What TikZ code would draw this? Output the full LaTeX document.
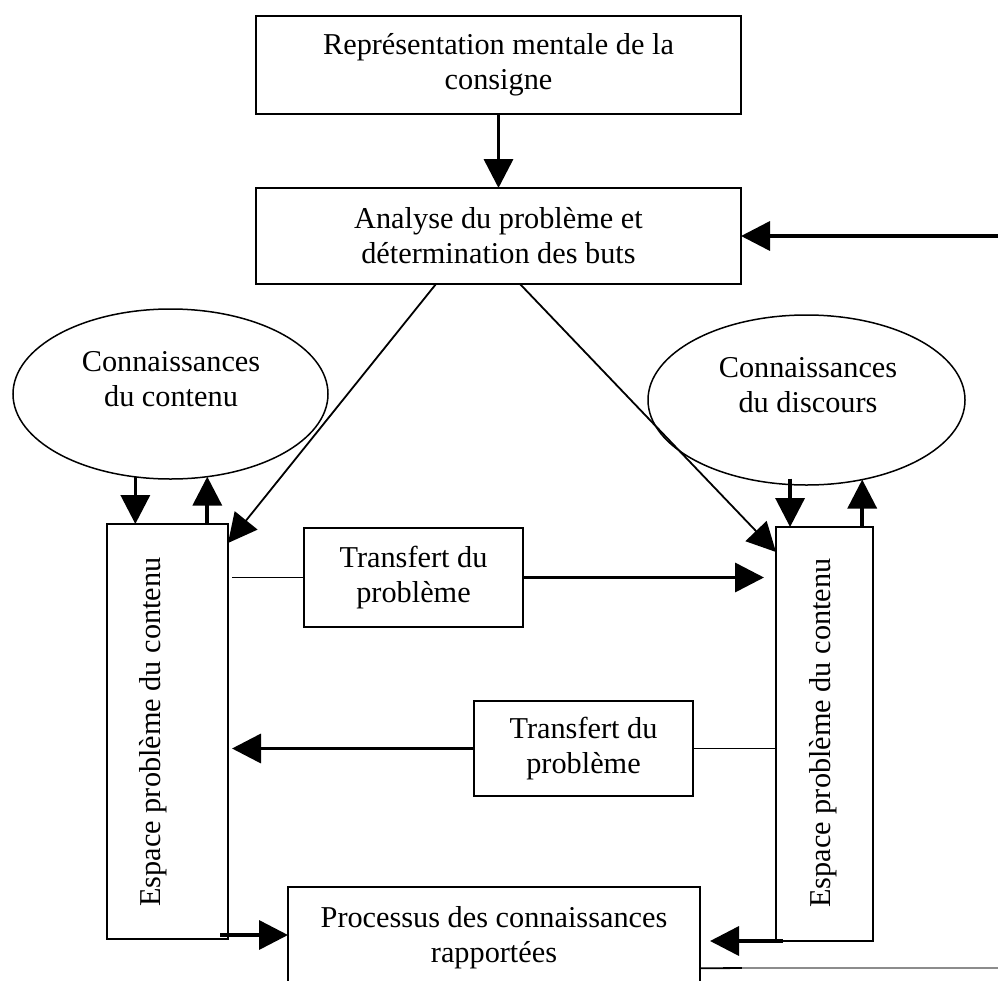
\documentclass[tikz,border=0pt]{standalone}
\usepackage{fontspec}
\setmainfont{Liberation Serif}
\usetikzlibrary{arrows.meta,shapes.geometric}
\begin{document}
\begin{tikzpicture}[x=1pt,y=-1pt,
  font=\fontsize{30.3}{35}\selectfont,
  box/.style={draw,line width=1.6pt,inner sep=0pt,outer sep=0pt,align=center},
  ell/.style={draw,ellipse,line width=1.5pt,inner sep=0pt,outer sep=0pt},
  thinl/.style={line width=1.8pt},
  thk/.style={line width=3.6pt,-{Triangle[length=29pt,width=29pt]}},
  thn/.style={line width=1.8pt,-{Triangle[length=29pt,width=29pt]}},
  lbl/.style={align=center,inner sep=0pt},
  vtext/.style={rotate=90,inner sep=0pt}]
\path[use as bounding box] (0,0) rectangle (998,980);
\clip (0,0) rectangle (998,980);

% boxes
\node[box,minimum width=485pt,minimum height=98pt] (B1) at (498.5,65) {Représentation mentale de la\\consigne};
\node[box,minimum width=485pt,minimum height=96pt] (B2) at (498.5,236) {Analyse du problème et\\détermination des buts};
\node[box,minimum width=219pt,minimum height=99pt] (T1) at (413.5,577.5) {Transfert du\\problème};
\node[box,minimum width=219pt,minimum height=95pt] (T2) at (583.5,748.5) {Transfert du\\problème};
\node[box,minimum width=121pt,minimum height=415pt] (LB) at (167.5,731.5) {};
\node[box,minimum width=97pt,minimum height=414pt] (RB) at (824.5,734) {};
\node[box,minimum width=412pt,minimum height=100.6pt] (B3) at (494,937.3) {Processus des connaissances\\rapportées};

% rotated labels
\node[vtext] (LBt) at (152.8,732) {Espace problème du contenu};
\node[vtext] (RBt) at (822.8,733) {Espace problème du contenu};

% ellipses
\node[ell,minimum width=315pt,minimum height=170pt] (EL) at (170.5,394) {};
\node[ell,minimum width=317pt,minimum height=170pt] (ER) at (806.5,400) {};
\node[lbl] (ELt) at (171,379) {Connaissances\\du contenu};
\node[lbl] (ERt) at (808,385) {Connaissances\\du discours};

% external coordinates
\coordinate (rin) at (998,236);
\coordinate (rg) at (742,968);
\coordinate (rout) at (998,968);

% top arrows
\draw[thk] (B1.south) -- (B2.north);
\draw[thk] (rin) -- (B2.east);

% diagonals
\draw[thn] ([xshift=-62.5pt]B2.south) -- ([yshift=-19pt]LB.north east);
\draw[thn] ([xshift=21.5pt]B2.south) -- ([yshift=-25pt]RB.north west);

% ellipse <-> boxes
\draw[thk] (EL.-113.2) -- (EL.-113.2 |- LB.north);
\draw[thk] (EL.-66.2 |- LB.north) -- (EL.-66.2);
\draw[thk] ([yshift=6pt]ER.-101.7) -- (ER.-101.7 |- RB.north);
\draw[thk] (ER.-55.1 |- RB.north) -- (ER.-55.1);

% transfers
\draw[thinl,shorten >=3.5pt] (T1.west) -- (T1.west -| LB.east);
\draw[thk,shorten >=12pt] (T1.east) -- (T1.east -| RB.west);
\draw[thk,shorten >=4pt] (T2.west) -- (T2.west -| LB.east);
\draw[thinl] (T2.east) -- (T2.east -| RB.west);

% to bottom box
\draw[thk] ([shift={(-8,-4)}]LB.south east) -- ([shift={(0,-4)}]B3.west |- LB.south east);
\draw[thk,shorten >=10pt] ([xshift=7pt]RB.south west) -- (B3.east |- RB.south west);

% return line
\draw[thinl] ([yshift=-31pt]B3.east) -- (rg);
\draw[thinl,black!45] (rg) -- (rout);
\end{tikzpicture}
\end{document}
